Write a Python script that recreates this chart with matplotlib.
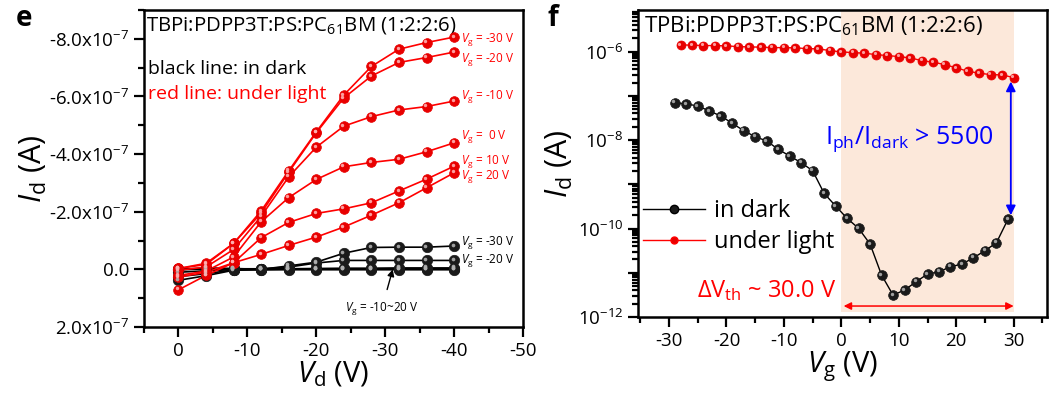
import numpy as np
import matplotlib.pyplot as plt
from matplotlib.ticker import MultipleLocator, FuncFormatter, LogLocator, NullFormatter
from matplotlib.transforms import ScaledTranslation

plt.rcParams['font.family'] = ['Open Sans', 'DejaVu Sans']
plt.rcParams['mathtext.fontset'] = 'custom'
plt.rcParams['mathtext.rm'] = 'Open Sans'
plt.rcParams['mathtext.it'] = 'Open Sans:italic'
plt.rcParams['mathtext.bf'] = 'Open Sans:bold'

# ---- output curves, Id (A) vs Vd (V) ----
vd = [0, -4, -8, -12, -16, -20, -24, -28, -32, -36, -40]
vg_list = [-30, -20, -10, 0, 10, 20]

light_out = {
    -30: [-0.03, -0.21, -0.90, -2.03, -3.42, -4.77, -6.05, -7.04, -7.64, -7.87, -8.06],
    -20: [-0.03, -0.17, -0.90, -1.95, -3.37, -4.74, -5.95, -6.71, -7.18, -7.35, -7.54],
    -10: [0.03, -0.08, -0.69, -1.84, -3.21, -4.24, -4.97, -5.30, -5.53, -5.65, -5.84],
    0: [0.21, 0.06, -0.43, -1.65, -2.49, -3.12, -3.56, -3.71, -3.82, -4.08, -4.39],
    10: [0.27, 0.10, -0.23, -1.10, -1.63, -1.94, -2.10, -2.31, -2.72, -3.13, -3.58],
    20: [0.71, 0.21, -0.23, -0.52, -0.83, -1.12, -1.47, -1.88, -2.31, -2.83, -3.35],
}
dark_out = {
    -30: [0.00, -0.05, -0.03, 0.00, -0.12, -0.25, -0.56, -0.76, -0.77, -0.77, -0.81],
    -20: [0.02, -0.02, -0.02, -0.02, -0.08, -0.22, -0.31, -0.31, -0.31, -0.31, -0.31],
    -10: [-0.02, 0.00, 0.00, -0.01, -0.02, -0.03, -0.04, -0.04, -0.05, -0.05, -0.05],
    0: [0.10, 0.05, 0.01, 0.00, -0.01, -0.01, -0.02, -0.02, -0.02, -0.02, -0.02],
    10: [0.25, 0.15, 0.02, 0.01, 0.00, 0.00, 0.00, 0.00, 0.00, 0.00, 0.00],
    20: [0.38, 0.22, 0.03, 0.01, 0.01, 0.01, 0.01, 0.01, 0.01, 0.01, 0.01],
}
scale_out = 1e-7

# ---- transfer curves, Id (A) vs Vg (V) ----
vg_dark = [-29, -27, -25, -23, -21, -19, -17, -15, -13, -11, -9, -7, -5, -3, -1,
           1, 3, 5, 7, 9, 11, 13, 15, 17, 19, 21, 23, 25, 27, 29]
id_dark = [7.01e-8, 6.56e-8, 5.90e-8, 4.55e-8, 3.51e-8, 2.40e-8, 1.63e-8, 1.19e-8,
           9.55e-9, 6.19e-9, 4.37e-9, 3.08e-9, 2.03e-9, 6.25e-10, 3.23e-10,
           1.70e-10, 1.01e-10, 4.46e-11, 8.87e-12, 3.13e-12, 4.06e-12, 6.25e-12,
           9.35e-12, 1.05e-11, 1.37e-11, 1.57e-11, 2.18e-11, 3.15e-11, 4.78e-11, 1.61e-10]
vg_light = [-28, -26, -24, -22, -20, -18, -16, -14, -12, -10, -8, -6, -4, -2, 0,
            2, 4, 6, 8, 10, 12, 14, 16, 18, 20, 22, 24, 26, 28, 30]
id_light = [1.419e-6, 1.396e-6, 1.368e-6, 1.368e-6, 1.346e-6, 1.297e-6, 1.276e-6,
            1.259e-6, 1.230e-6, 1.230e-6, 1.213e-6, 1.169e-6, 1.151e-6, 1.054e-6,
            0.984e-6, 0.948e-6, 0.920e-6, 0.855e-6, 0.813e-6, 0.771e-6, 0.719e-6,
            0.625e-6, 0.575e-6, 0.508e-6, 0.428e-6, 0.361e-6, 0.324e-6, 0.302e-6,
            0.297e-6, 0.258e-6]

RED = '#ff0000'
BALL = {RED: ('#e80000', '#ffb0b0'), 'k': ('#1a1a1a', '#b0b0b0')}


def balls(ax, x, y, color, ms, lw=1.2, zorder=3):
    face, shine = BALL[color]
    ax.plot(x, y, '-', color=color, lw=lw, zorder=zorder)
    ax.plot(x, y, 'o', ms=ms, mfc=face, mec=face, mew=0.5, zorder=zorder + 0.1)
    # small glossy spot on each ball
    off = ax.transData + ScaledTranslation(-ms * 0.14 / 72, ms * 0.14 / 72, fig.dpi_scale_trans)
    ax.plot(x, y, 'o', ms=ms * 0.35, mfc=shine, mec='none', alpha=0.9,
            transform=off, zorder=zorder + 0.2)


fig = plt.figure(figsize=(10.49, 4.05), dpi=100)
W, H = 1049, 405


def px_axes(l, t, r, b):
    return fig.add_axes([l / W, 1 - b / H, (r - l) / W, (b - t) / H])


# ================= panel e =================
ax1 = px_axes(144, 10, 523, 327)
for vg in [-10, 0, 10, 20, -20, -30]:
    balls(ax1, vd, np.array(dark_out[vg]) * scale_out, 'k', 7.5)
for vg in vg_list:
    balls(ax1, vd, np.array(light_out[vg]) * scale_out, RED, 7)

ax1.set_xlim(5, -50)
ax1.set_ylim(2e-7, -9e-7)
ax1.xaxis.set_major_locator(MultipleLocator(10))
ax1.xaxis.set_minor_locator(MultipleLocator(5))
ax1.yaxis.set_major_locator(MultipleLocator(2e-7))
ax1.yaxis.set_minor_locator(MultipleLocator(1e-7))


def sci7(v, pos):
    m = v / 1e-7
    if abs(m) < 1e-9:
        return '0.0'
    return '%.1fx10$^{-7}$' % m


ax1.yaxis.set_major_formatter(FuncFormatter(sci7))
ax1.xaxis.set_major_formatter(FuncFormatter(lambda v, p: '%d' % v))
ax1.set_xlabel('$V_{\\mathrm{d}}$ (V)', fontsize=21, labelpad=0)
ax1.set_ylabel('$I_{\\mathrm{d}}$ (A)', fontsize=22, labelpad=0)

ax1.text(0.005, 0.985, 'TBPi:PDPP3T:PS:PC$_{61}$BM (1:2:2:6)', transform=ax1.transAxes,
         fontsize=14.7, va='top', ha='left')
ax1.text(0.01, 0.815, 'black line: in dark', transform=ax1.transAxes,
         fontsize=14, va='center', ha='left', color='k')
ax1.text(0.01, 0.735, 'red line: under light', transform=ax1.transAxes,
         fontsize=14, va='center', ha='left', color=RED)

lab_y_light = {-30: -7.97, -20: -7.27, -10: -5.99, 0: -4.60, 10: -3.76, 20: -3.22}
for vg in vg_list:
    txt = '$V_{\\mathrm{g}}$ = %s V' % ('%d' % vg if vg != 0 else ' 0')
    ax1.text(-41, lab_y_light[vg] * scale_out, txt, color=RED, fontsize=8.5,
             va='center', ha='left')
ax1.text(-41, -0.93e-7, '$V_{\\mathrm{g}}$ = -30 V', color='k', fontsize=8.5, va='center', ha='left')
ax1.text(-41, -0.31e-7, '$V_{\\mathrm{g}}$ = -20 V', color='k', fontsize=8.5, va='center', ha='left')
ax1.annotate('$V_{\\mathrm{g}}$ = -10~20 V', xy=(-31.1, 0.0), xytext=(-29.5, 1.37e-7),
             fontsize=8.5, ha='center', va='center',
             arrowprops=dict(arrowstyle='-|>', color='k', lw=1.0, mutation_scale=10,
                             shrinkA=6, shrinkB=0))

# ================= panel f =================
ax2 = px_axes(638, 10, 1047, 317)
ax2.set_yscale('log')
ax2.set_xlim(-35.4, 35.8)
ax2.set_ylim(1e-12, 10 ** -5.06)
ax2.axvspan(0, 30, ymin=0.015, ymax=1, color='#fce8da', zorder=0, lw=0)

balls(ax2, vg_dark, id_dark, 'k', 7, lw=1.0)
balls(ax2, vg_light, id_light, RED, 6.5, lw=1.0)

ax2.xaxis.set_major_locator(MultipleLocator(10))
ax2.xaxis.set_minor_locator(MultipleLocator(5))
ax2.xaxis.set_major_formatter(FuncFormatter(lambda v, p: '%d' % v))
ax2.yaxis.set_major_locator(LogLocator(base=10, numticks=20))
ax2.yaxis.set_minor_locator(LogLocator(base=10, subs=np.arange(2, 10), numticks=20))
ax2.yaxis.set_minor_formatter(NullFormatter())


def dec_lab(v, pos):
    e = int(round(np.log10(v)))
    if e % 2:
        return ''
    return '10$^{%d}$' % e


ax2.yaxis.set_major_formatter(FuncFormatter(dec_lab))
ax2.set_xlabel('$V_{\\mathrm{g}}$ (V)', fontsize=21, labelpad=0)
ax2.set_ylabel('$I_{\\mathrm{d}}$ (A)', fontsize=22, labelpad=2)

ax2.text(0.015, 0.985, 'TPBi:PDPP3T:PS:PC$_{61}$BM (1:2:2:6)', transform=ax2.transAxes,
         fontsize=16, va='top', ha='left')

# photo/dark ratio arrow
ax2.annotate('', xy=(29.5, 2.0e-10), xytext=(29.5, 2.1e-7),
             arrowprops=dict(arrowstyle='<|-|>', color='#0000ff', lw=1.3, mutation_scale=14,
                             shrinkA=0, shrinkB=0))
ax2.text(11.8, 1.05e-8, 'I$_{\\mathrm{ph}}$/I$_{\\mathrm{dark}}$ > 5500', color='#0000ff',
         fontsize=18, ha='center', va='center')

# threshold shift arrow
ax2.annotate('', xy=(30, 1.77e-12), xytext=(0.4, 1.77e-12),
             arrowprops=dict(arrowstyle='<|-|>', color=RED, lw=1.1, mutation_scale=11,
                             shrinkA=0, shrinkB=0))
ax2.text(-0.8, 4.0e-12, '$\\Delta$V$_{\\mathrm{th}}$ ~ 30.0 V', color=RED, fontsize=17,
         ha='right', va='center')

h_dark, = ax2.plot([], [], '-o', color='k', ms=6, mfc='#1a1a1a', lw=1.0)
h_light, = ax2.plot([], [], '-o', color=RED, ms=5, mfc='#e80000', lw=1.0)
ax2.legend([h_dark, h_light], ['in dark', 'under light'], loc='upper left',
           bbox_to_anchor=(-0.01, 0.415), frameon=False, fontsize=17,
           handlelength=2.6, handletextpad=0.4, labelspacing=0.3, borderaxespad=0)

for ax in (ax1, ax2):
    for s in ax.spines.values():
        s.set_linewidth(1.8)
    ax.tick_params(which='both', direction='out', width=1.6, labelsize=13.5, top=False, right=False)
    ax.tick_params(which='major', length=7)
    ax.tick_params(which='minor', length=4)

fig.text(0.015, 0.955, 'e', fontsize=20, fontweight='bold', ha='left', va='center')
fig.text(0.522, 0.955, 'f', fontsize=20, fontweight='bold', ha='left', va='center')

fig.savefig('out.png', dpi=100)
